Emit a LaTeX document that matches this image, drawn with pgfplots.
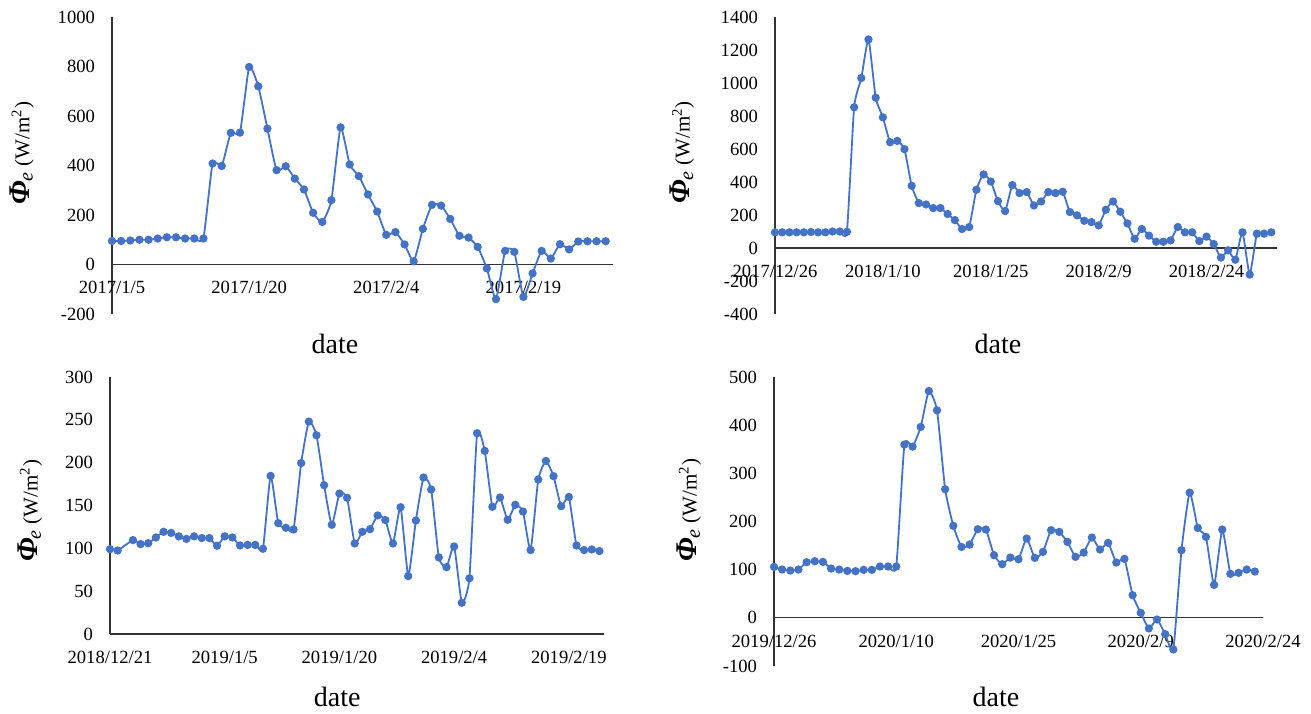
\documentclass[border=0pt]{standalone}
\usepackage{pgfplots}
\pgfplotsset{compat=1.18}
\usepackage{fontspec}
\setmainfont{Liberation Serif}
\definecolor{lineblue}{HTML}{4472C4}
\pgfplotsset{
  panel/.style={
    scale only axis,
    anchor=south west,
    axis x line=middle,
    axis y line=left,
    axis line style={-, black!80, line width=0.6pt},
    hide obscured x ticks=false,
    hide obscured y ticks=false,
    major tick length=0pt,
    xmin=0,
    xtick={0,15,30,45,60},
    ticklabel style={font=\fontsize{9.3}{10}\selectfont},
    /pgf/number format/assume math mode=true,
    /pgf/number format/set thousands separator={},
    xticklabel style={anchor=north, yshift=-5pt},
    yticklabel style={anchor=east, xshift=-5pt},
    xlabel={date},
    xlabel style={font=\fontsize{14}{16}\selectfont, anchor=center},
    ylabel={{\fontsize{15}{16}\selectfont\textbf{\textit{Φ}}}\textsubscript{\kern-0.5pt\fontsize{10}{10}\selectfont\textit{e}} (W/m\textsuperscript{2})},
    ylabel style={font=\fontsize{10.5}{12}\selectfont, anchor=center},
    clip=false,
  },
  ser/.style={color=lineblue, line width=0.9pt, mark=*, mark size=1.6pt, mark options={fill=lineblue, draw=lineblue}, smooth, tension=0.3},
}
\begin{document}
\begin{tikzpicture}
\useasboundingbox (0,0) rectangle (655.5pt,356.5pt);
% Panel 1
\begin{axis}[panel, at={(56pt,199.5pt)}, width=250.5pt, height=148.5pt,
  xmax=54.8, ymin=-200, ymax=1000, ytick={-200,0,200,400,600,800,1000},
  xticklabels={2017/1/5,2017/1/20,2017/2/4,2017/2/19},
  xlabel style={at={(axis description cs:0.445,-0.10)}},
  ylabel style={at={(axis description cs:-0.18,0.542)}}]
\addplot[ser] coordinates {
(0,95)(1,95)(2,97)(3,100)(4,100)(5,105)(6,110)(7,110)(8,105)(9,105)(10,105)
(11,408)(12,398)(13,532)(14,533)(15,798)(16,720)(17,549)(18,381)(19,397)(20,347)
(21,303)(22,209)(23,172)(24,260)(25,554)(26,404)(27,357)(28,283)(29,214)(30,120)
(31,131)(32,81)(33,13)(34,144)(35,241)(36,238)(37,184)(38,116)(39,109)(40,71)
(41,-16)(42,-140)(43,55)(44,51)(45,-131)(46,-36)(47,55)(48,24)(49,82)(50,61)
(51,93)(52,94)(53,94)(54,94)};
\end{axis}
% Panel 2
\begin{axis}[panel, at={(387.5pt,199.5pt)}, width=251pt, height=148.5pt,
  xmax=69.8, ymin=-400, ymax=1400, ytick={-400,-200,0,200,400,600,800,1000,1200,1400},
  xticklabels={2017/12/26,2018/1/10,2018/1/25,2018/2/9,2018/2/24},
  xlabel style={at={(axis description cs:0.444,-0.10)}},
  ylabel style={at={(axis description cs:-0.185,0.545)}}]
\addplot[ser] coordinates {
(0,95)(1,95)(2,95)(3,95)(4,95)(5,97)(6,95)(7,95)(8,100)(9,100)(10,98)
(11,853)(12,1030)(13,1264)(14,911)(15,792)(16,641)(17,649)(18,599)(19,377)(20,272)
(21,264)(22,242)(23,242)(24,206)(25,169)(26,115)(27,127)(28,353)(29,446)(30,403)
(31,284)(32,224)(33,381)(34,333)(35,339)(36,258)(37,282)(38,339)(39,333)(40,341)
(41,218)(42,198)(43,165)(44,157)(45,137)(46,232)(47,282)(48,220)(49,149)(50,56)
(51,115)(52,75)(53,38)(54,38)(55,46)(56,127)(57,95)(58,95)(59,42)(60,69)
(61,24)(62,-58)(63,-14)(64,-71)(65,95)(66,-161)(67,87)(68,87)(69,95)};
\end{axis}
% Panel 3
\begin{axis}[panel, at={(55pt,39.5pt)}, width=247pt, height=128.5pt,
  xmax=64.6, ymin=0, ymax=300, ytick={0,50,100,150,200,250,300},
  xticklabels={2018/12/21,2019/1/5,2019/1/20,2019/2/4,2019/2/19},
  xlabel style={at={(axis description cs:0.46,-0.245)}},
  ylabel style={at={(axis description cs:-0.162,0.479)}}]
\addplot[ser] coordinates {
(0,99)(1,97.5)(3,109.6)(4,105)(5,106)(6,112.7)(7,119.3)(8,118)(9,114)(10,111)
(11,114)(12,112)(13,112)(14,103)(15,114)(16,112.7)(17,103.4)(18,104)(19,104)(20,99.5)
(21,184.6)(22,129.4)(23,124)(24,122)(25,199.5)(26,248)(27,232)(28,173.7)(29,127.5)(30,164)
(31,159)(32,105.7)(33,119.3)(34,122.4)(35,138.4)(36,133)(37,105.7)(38,148)(39,67.6)(40,132.5)
(41,182.7)(42,168.7)(43,89.4)(44,78)(45,102.2)(46,36.5)(47,65)(48,234.4)(49,213.8)(50,148.5)
(51,159.3)(52,133.3)(53,150.8)(54,143)(55,98)(56,180.3)(57,202)(58,184.2)(59,149.2)(60,160)
(61,103.4)(62,98)(63,98.7)(64,96.8)};
\end{axis}
% Panel 4
\begin{axis}[panel, at={(387pt,23.5pt)}, width=244.5pt, height=144.5pt,
  xmax=60, ymin=-100, ymax=500, ytick={-100,0,100,200,300,400,500},
  xticklabels={2019/12/26,2020/1/10,2020/1/25,2020/2/9,2020/2/24},
  xlabel style={at={(axis description cs:0.454,-0.107)}},
  ylabel style={at={(axis description cs:-0.174,0.54)}}]
\addplot[ser] coordinates {
(0,105.8)(1,100.3)(2,98.2)(3,100.3)(4,115.5)(5,117.6)(6,116.2)(7,102.4)(8,100.3)(9,97.5)
(10,96.8)(11,99.6)(12,99.6)(13,106.5)(14,106.5)(15,106.5)(16,359.6)(17,355.5)(18,396.3)(19,471)
(20,430.8)(21,267)(22,191)(23,147.3)(24,152.1)(25,184)(26,183.3)(27,130)(28,111.3)(29,125.2)
(30,121.7)(31,164.6)(32,124.5)(33,137)(34,182)(35,178.4)(36,157.7)(37,126.6)(38,135.5)(39,166.7)
(40,141.8)(41,155.6)(42,114.8)(43,122.4)(44,47)(45,10.4)(46,-22)(47,-3.5)(48,-34)(49,-65.7)
(50,140.4)(51,260)(52,186.7)(53,168)(54,68.5)(55,183.3)(56,91.3)(57,93.4)(58,100.3)(59,96.1)};
\end{axis}
\end{tikzpicture}
\end{document}
